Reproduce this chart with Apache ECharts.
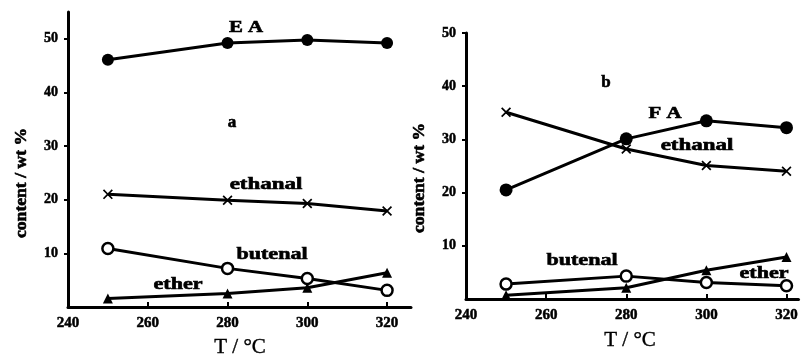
<!DOCTYPE html>
<html>
<head>
<meta charset="utf-8">
<script src="https://cdn.jsdelivr.net/npm/echarts@6/dist/echarts.min.js"></script>
<style>
  html, body { margin: 0; padding: 0; background: #fff; }
  #chart { width: 801px; height: 359px; }
</style>
</head>
<body>
<div id="chart"></div>
<script>
// reaction temperature, °C
const temps = [250, 280, 300, 320];
const xTickLabels = [240, 260, 280, 300, 320];
const yTickLabels = [10, 20, 30, 40, 50];

// panel a
const eaA = [46.1, 49.2, 49.8, 49.2];
const ethanalA = [21.0, 19.9, 19.3, 17.9];
const butenalA = [10.9, 7.2, 5.3, 3.1];
const etherA = [1.6, 2.5, 3.6, 6.4];

// panel b
const eaB = [20.5, 30.1, 33.5, 32.2];
const ethanalB = [35.1, 28.2, 25.1, 24.0];
const butenalB = [2.8, 4.3, 3.1, 2.5];
const etherB = [0.7, 2.1, 5.4, 7.9];

const pairs = (vals) => temps.map((t, i) => [t, vals[i]]);

const FONT = '"Liberation Serif", "DejaVu Serif", serif';
const CROSS = 'path://M0,1.2L1.2,0L5,3.8L8.8,0L10,1.2L6.2,5L10,8.8L8.8,10L5,6.2L1.2,10L0,8.8L3.8,5Z';

function xAxis(idx, max) {
  return {
    type: 'value', gridIndex: idx, min: 240, max: max,
    axisLine: { lineStyle: { color: '#000', width: 3 } },
    axisTick: { inside: true, length: 5, lineStyle: { color: '#000', width: 2 },
      customValues: [260, 280, 300, 320] },
    axisLabel: { customValues: xTickLabels, color: '#000', fontFamily: FONT,
      fontWeight: 'bold', fontSize: 15, margin: 9,
      textBorderColor: '#000', textBorderWidth: 0.5 },
    splitLine: { show: false }
  };
}
function yAxis(idx, max) {
  return {
    type: 'value', gridIndex: idx, min: 0, max: max,
    axisLine: { show: true, lineStyle: { color: '#000', width: 3 } },
    axisTick: { show: true, length: 4, lineStyle: { color: '#000', width: 2 },
      customValues: yTickLabels },
    axisLabel: { customValues: yTickLabels, color: '#000', fontFamily: FONT,
      fontWeight: 'bold', fontSize: 14, margin: 10,
      textBorderColor: '#000', textBorderWidth: 0.5 },
    splitLine: { show: false }
  };
}
function line(name, idx, vals, symbol, size, hollow) {
  return {
    name: name, type: 'line', xAxisIndex: idx, yAxisIndex: idx,
    data: pairs(vals), symbol: symbol, symbolSize: size,
    lineStyle: { color: '#000', width: 3 },
    itemStyle: hollow
      ? { color: '#fff', borderColor: '#000', borderWidth: 2.5 }
      : { color: '#000', borderColor: '#000', borderWidth: 0 },
    z: hollow ? 3 : 2
  };
}
// annotation text, stretched a little to match the spaced-out lettering
function txt(x, y, s, size, sx, rot) {
  return {
    type: 'text', x: x, y: y, scaleX: sx || 1, rotation: rot || 0,
    style: { text: s, fill: '#000', font: 'bold ' + size + 'px ' + FONT,
      stroke: '#000', lineWidth: 0.6, align: 'center', verticalAlign: 'middle' }
  };
}
function tName(x, y) {
  return {
    type: 'text', x: x, y: y,
    style: { text: 'T / °C', fill: '#000', font: '21px ' + FONT,
      stroke: '#000', lineWidth: 0.4, align: 'center', verticalAlign: 'middle' }
  };
}

const chart = echarts.init(document.getElementById('chart'));
chart.setOption({
  animation: false,
  backgroundColor: '#fff',
  grid: [
    { left: 68, right: 390, top: 12, bottom: 52 },
    { left: 466, right: 0, top: 33, bottom: 60 }
  ],
  xAxis: [xAxis(0, 326), xAxis(1, 323)],
  yAxis: [yAxis(0, 55), yAxis(1, 50)],
  series: [
    line('EA', 0, eaA, 'circle', 12, false),
    line('ethanal', 0, ethanalA, CROSS, 10, false),
    line('butenal', 0, butenalA, 'circle', 11, true),
    line('ether', 0, etherA, 'triangle', 10, false),
    line('EA', 1, eaB, 'circle', 13, false),
    line('ethanal', 1, ethanalB, CROSS, 10, false),
    line('butenal', 1, butenalB, 'circle', 11, true),
    line('ether', 1, etherB, 'triangle', 10, false)
  ],
  graphic: [
    txt(246, 28, 'E A', 16, 1.3),
    txt(232, 123, 'a', 17),
    txt(266, 185, 'ethanal', 17, 1.35),
    txt(272, 255, 'butenal', 17, 1.3),
    txt(178, 285, 'ether', 17, 1.3),
    txt(606, 83, 'b', 17),
    txt(665, 114, 'F A', 16, 1.3),
    txt(697, 146, 'ethanal', 17, 1.35),
    txt(582, 261, 'butenal', 17, 1.3),
    txt(764, 274, 'ether', 17, 1.3),
    txt(22, 183, 'content / wt %', 16, 1.1, Math.PI / 2),
    txt(420, 178, 'content / wt %', 16, 1.1, Math.PI / 2),
    tName(240, 347),
    tName(630, 340)
  ]
});
</script>
</body>
</html>
